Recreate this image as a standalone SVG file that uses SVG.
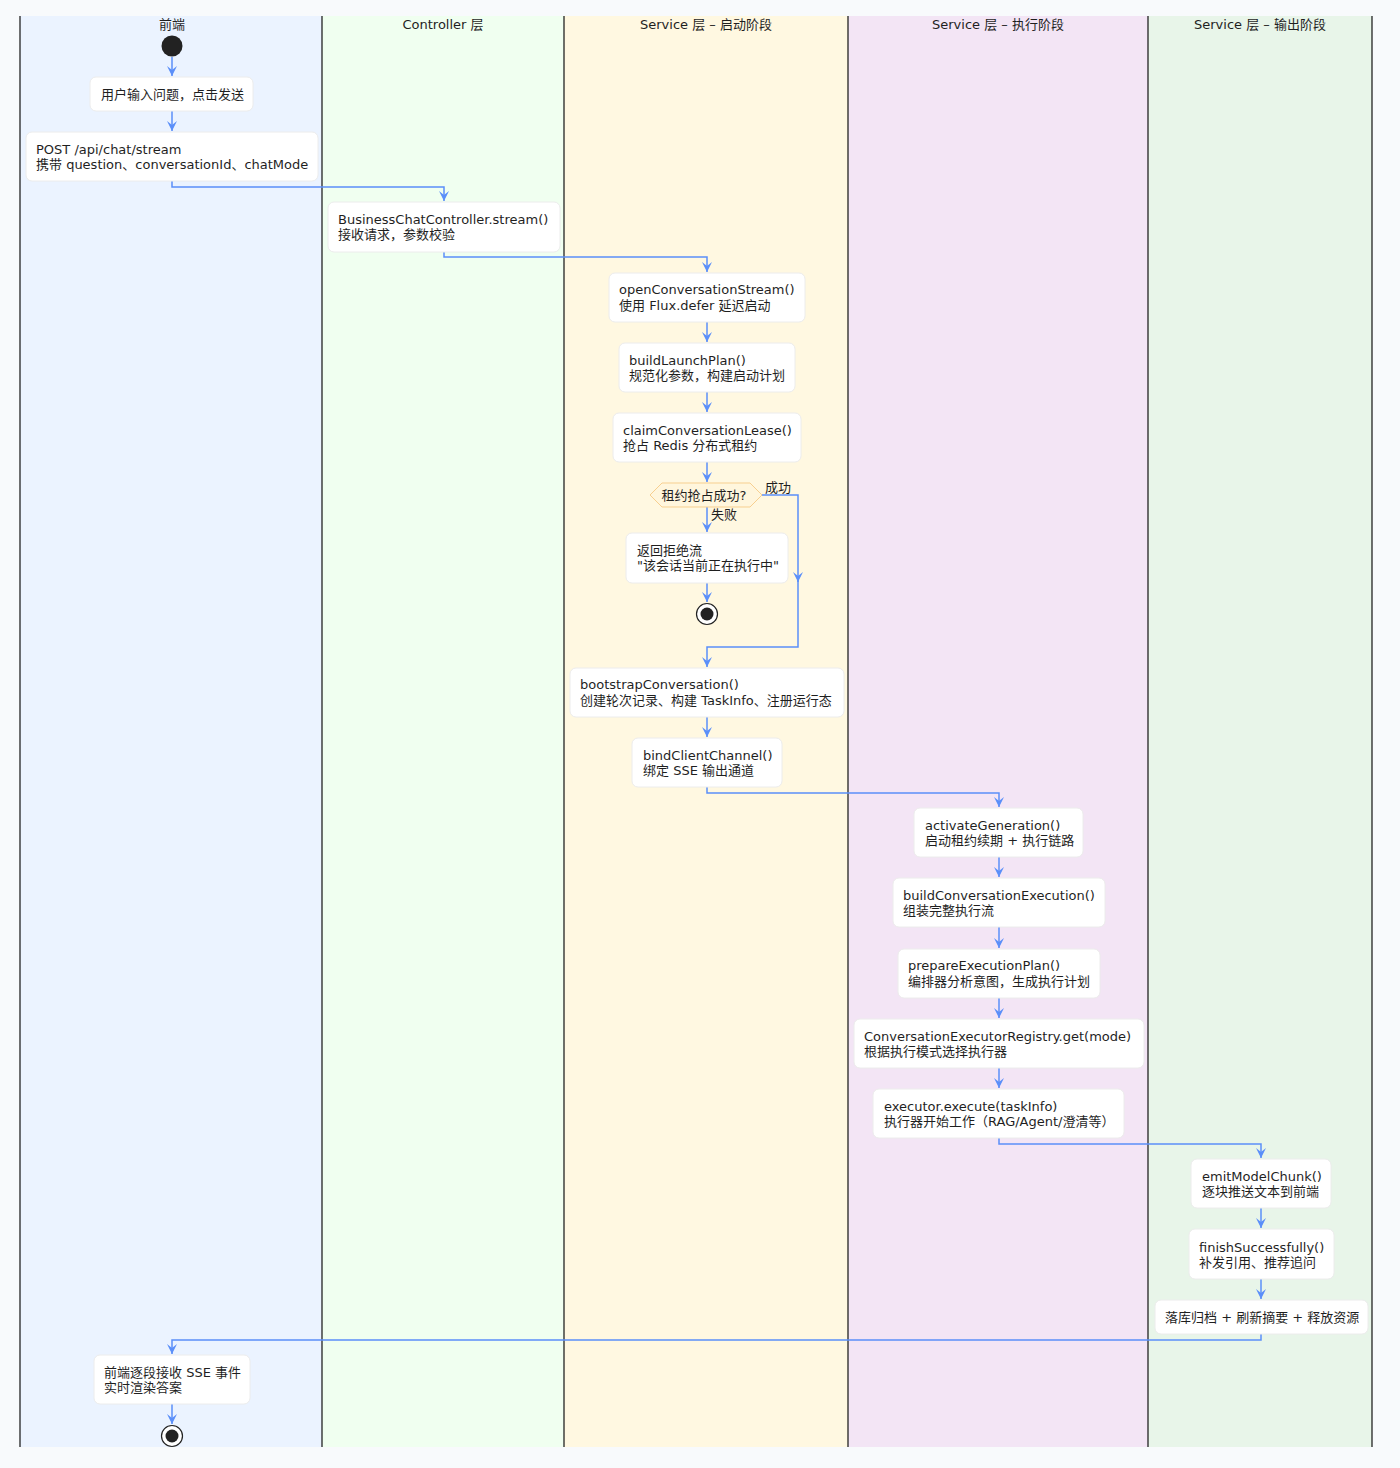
<svg xmlns="http://www.w3.org/2000/svg" width="1400" height="1468" viewBox="0 0 1400 1468">
<defs>
<style>
text{font-family:"DejaVu Sans","Noto Sans CJK SC","Noto Sans",sans-serif;font-size:13px;fill:#1f1f1f}
.hdr{text-anchor:middle}
.box{fill:#ffffff;stroke:#ececec;stroke-width:1}
.c{fill:none;stroke:#5b8ff9;stroke-width:1.5}
.lane{stroke:#111;stroke-width:1.2}
</style>
<marker id="ah" viewBox="0 0 10 10" refX="10" refY="5" markerWidth="11" markerHeight="10" markerUnits="userSpaceOnUse" orient="auto">
<path d="M0,0 L10,5 L0,10 L4,5 Z" fill="#5b8ff9"/>
</marker>
</defs>
<rect x="0" y="0" width="1400" height="1468" fill="#f8fafc"/>
<g id="lanes">
<rect x="20" y="16" width="302" height="1431" fill="#ebf3ff"/>
<rect x="322" y="16" width="242" height="1431" fill="#f0fff0"/>
<rect x="564" y="16" width="284" height="1431" fill="#fff8e1"/>
<rect x="848" y="16" width="300" height="1431" fill="#f3e5f5"/>
<rect x="1148" y="16" width="224" height="1431" fill="#e8f5e9"/>
<line class="lane" x1="20" y1="16" x2="20" y2="1447" stroke="#444"/>
<line class="lane" x1="322" y1="16" x2="322" y2="1447"/>
<line class="lane" x1="564" y1="16" x2="564" y2="1447"/>
<line class="lane" x1="848" y1="16" x2="848" y2="1447"/>
<line class="lane" x1="1148" y1="16" x2="1148" y2="1447"/>
<line class="lane" x1="1372" y1="16" x2="1372" y2="1447"/>
<text class="hdr" x="172" y="29">前端</text>
<text class="hdr" x="443" y="29">Controller 层</text>
<text class="hdr" x="706" y="29">Service 层 – 启动阶段</text>
<text class="hdr" x="998" y="29">Service 层 – 执行阶段</text>
<text class="hdr" x="1260" y="29">Service 层 – 输出阶段</text>
</g>
<g id="connectors">
<path class="c" d="M172,57 V76" marker-end="url(#ah)"/>
<path class="c" d="M172,111 V131" marker-end="url(#ah)"/>
<path class="c" d="M172,181 V187 H444 V201" marker-end="url(#ah)"/>
<path class="c" d="M444,252 V257 H707 V272" marker-end="url(#ah)"/>
<path class="c" d="M707,322 V342" marker-end="url(#ah)"/>
<path class="c" d="M707,392 V412" marker-end="url(#ah)"/>
<path class="c" d="M707,462 V482" marker-end="url(#ah)"/>
<path class="c" d="M707,507 V532" marker-end="url(#ah)"/>
<path class="c" d="M707,583 V602" marker-end="url(#ah)"/>
<path class="c" d="M762,495 H798 V582" marker-end="url(#ah)"/>
<path class="c" d="M798,580 V647 H707 V667" marker-end="url(#ah)"/>
<path class="c" d="M707,717 V737" marker-end="url(#ah)"/>
<path class="c" d="M707,787 V793 H999 V807" marker-end="url(#ah)"/>
<path class="c" d="M999,857 V877" marker-end="url(#ah)"/>
<path class="c" d="M999,927 V948" marker-end="url(#ah)"/>
<path class="c" d="M999,998 V1018" marker-end="url(#ah)"/>
<path class="c" d="M999,1068 V1088" marker-end="url(#ah)"/>
<path class="c" d="M999,1138 V1144 H1261 V1158" marker-end="url(#ah)"/>
<path class="c" d="M1261,1208 V1228" marker-end="url(#ah)"/>
<path class="c" d="M1261,1279 V1299" marker-end="url(#ah)"/>
<path class="c" d="M1261,1334 V1340 H172 V1354" marker-end="url(#ah)"/>
<path class="c" d="M172,1404 V1424" marker-end="url(#ah)"/>
<text x="765" y="492">成功</text>
<text x="711" y="519">失败</text>
</g>
<g id="start"><circle cx="172" cy="46" r="10.5" fill="#222"/></g>
<g id="n1"><rect class="box" x="90" y="77" width="163" height="34" rx="6"/><text x="101" y="98.5">用户输入问题，点击发送</text></g>
<g id="n2"><rect class="box" x="26" y="132" width="292" height="49" rx="6"/><text x="36" y="153.5">POST /api/chat/stream</text><text x="36" y="168.5">携带 question、conversationId、chatMode</text></g>
<g id="n3"><rect class="box" x="328" y="202" width="232" height="50" rx="6"/><text x="338" y="223.5">BusinessChatController.stream()</text><text x="338" y="238.5">接收请求，参数校验</text></g>
<g id="n4"><rect class="box" x="609" y="273" width="196" height="49" rx="6"/><text x="619" y="293.5">openConversationStream()</text><text x="619" y="309.5">使用 Flux.defer 延迟启动</text></g>
<g id="n5"><rect class="box" x="619" y="343" width="176" height="49" rx="6"/><text x="629" y="364.5">buildLaunchPlan()</text><text x="629" y="379.5">规范化参数，构建启动计划</text></g>
<g id="n6"><rect class="box" x="613" y="413" width="188" height="49" rx="6"/><text x="623" y="434.5">claimConversationLease()</text><text x="623" y="449.5">抢占 Redis 分布式租约</text></g>
<g id="d1"><polygon points="650,495 662,483 750,483 762,495 750,507 662,507" fill="#fff6dd" stroke="#f7cf8f" stroke-width="1"/><text x="704" y="499.5" text-anchor="middle">租约抢占成功?</text></g>
<g id="n7"><rect class="box" x="626" y="533" width="162" height="50" rx="6"/><text x="637" y="554.5">返回拒绝流</text><text x="637" y="569.5">"该会话当前正在执行中"</text></g>
<g id="end1"><circle cx="707" cy="614" r="10.5" fill="#fff" stroke="#222" stroke-width="1.2"/><circle cx="707" cy="614" r="6.5" fill="#222"/></g>
<g id="n8"><rect class="box" x="570" y="668" width="274" height="49" rx="6"/><text x="580" y="688.5">bootstrapConversation()</text><text x="580" y="704.5">创建轮次记录、构建 TaskInfo、注册运行态</text></g>
<g id="n9"><rect class="box" x="632" y="738" width="150" height="49" rx="6"/><text x="643" y="759.5">bindClientChannel()</text><text x="643" y="774.5">绑定 SSE 输出通道</text></g>
<g id="n10"><rect class="box" x="914" y="808" width="169" height="49" rx="6"/><text x="925" y="829.5">activateGeneration()</text><text x="925" y="844.5">启动租约续期 + 执行链路</text></g>
<g id="n11"><rect class="box" x="893" y="878" width="212" height="49" rx="6"/><text x="903" y="899.5">buildConversationExecution()</text><text x="903" y="914.5">组装完整执行流</text></g>
<g id="n12"><rect class="box" x="898" y="949" width="202" height="49" rx="6"/><text x="908" y="969.5">prepareExecutionPlan()</text><text x="908" y="985.5">编排器分析意图，生成执行计划</text></g>
<g id="n13"><rect class="box" x="854" y="1019" width="290" height="49" rx="6"/><text x="864" y="1040.5">ConversationExecutorRegistry.get(mode)</text><text x="864" y="1055.5">根据执行模式选择执行器</text></g>
<g id="n14"><rect class="box" x="873" y="1089" width="251" height="49" rx="6"/><text x="884" y="1110.5">executor.execute(taskInfo)</text><text x="884" y="1125.5">执行器开始工作（RAG/Agent/澄清等）</text></g>
<g id="n15"><rect class="box" x="1191" y="1159" width="140" height="49" rx="6"/><text x="1202" y="1180.5">emitModelChunk()</text><text x="1202" y="1195.5">逐块推送文本到前端</text></g>
<g id="n16"><rect class="box" x="1189" y="1229" width="145" height="50" rx="6"/><text x="1199" y="1251.5">finishSuccessfully()</text><text x="1199" y="1266.5">补发引用、推荐追问</text></g>
<g id="n17"><rect class="box" x="1155" y="1300" width="213" height="34" rx="6"/><text x="1165" y="1321.5">落库归档 + 刷新摘要 + 释放资源</text></g>
<g id="n18"><rect class="box" x="94" y="1355" width="156" height="49" rx="6"/><text x="104" y="1376.5">前端逐段接收 SSE 事件</text><text x="104" y="1391.5">实时渲染答案</text></g>
<g id="end2"><circle cx="172" cy="1436" r="10.5" fill="#fff" stroke="#222" stroke-width="1.2"/><circle cx="172" cy="1436" r="6.5" fill="#222"/></g>
</svg>
